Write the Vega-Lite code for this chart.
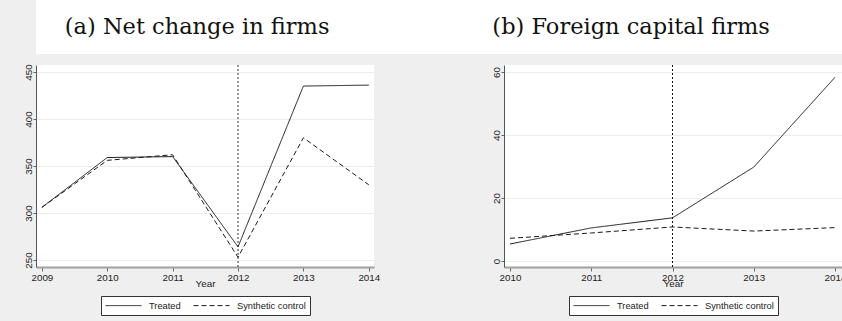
{
  "$schema": "https://vega.github.io/schema/vega-lite/v6.json",
  "background": "#efefef",
  "padding": {"left": 0, "top": 0, "right": 0, "bottom": 6},
  "datasets": {
    "titles": [
      {"panel": "a", "label": "(a) Net change in firms"},
      {"panel": "b", "label": "(b) Foreign capital firms"}
    ],
    "series": [
      {"panel": "a", "year": 2009, "series": "Treated", "value": 306},
      {"panel": "a", "year": 2010, "series": "Treated", "value": 359},
      {"panel": "a", "year": 2011, "series": "Treated", "value": 360},
      {"panel": "a", "year": 2012, "series": "Treated", "value": 264},
      {"panel": "a", "year": 2013, "series": "Treated", "value": 435},
      {"panel": "a", "year": 2014, "series": "Treated", "value": 436},
      {"panel": "a", "year": 2009, "series": "Synthetic control", "value": 306},
      {"panel": "a", "year": 2010, "series": "Synthetic control", "value": 356},
      {"panel": "a", "year": 2011, "series": "Synthetic control", "value": 362},
      {"panel": "a", "year": 2012, "series": "Synthetic control", "value": 253},
      {"panel": "a", "year": 2013, "series": "Synthetic control", "value": 380},
      {"panel": "a", "year": 2014, "series": "Synthetic control", "value": 330},
      {"panel": "b", "year": 2010, "series": "Treated", "value": 5.4},
      {"panel": "b", "year": 2011, "series": "Treated", "value": 10.5},
      {"panel": "b", "year": 2012, "series": "Treated", "value": 13.7},
      {"panel": "b", "year": 2013, "series": "Treated", "value": 29.8},
      {"panel": "b", "year": 2014, "series": "Treated", "value": 58.3},
      {"panel": "b", "year": 2010, "series": "Synthetic control", "value": 7.2},
      {"panel": "b", "year": 2011, "series": "Synthetic control", "value": 8.9},
      {"panel": "b", "year": 2012, "series": "Synthetic control", "value": 10.8},
      {"panel": "b", "year": 2013, "series": "Synthetic control", "value": 9.5},
      {"panel": "b", "year": 2014, "series": "Synthetic control", "value": 10.6}
    ],
    "events": [
      {"panel": "a", "year": 2012},
      {"panel": "b", "year": 2012}
    ]
  },
  "spacing": 9,
  "vconcat": [
    {
      "width": 806,
      "height": 54,
      "data": {"name": "titles"},
      "view": {"fill": "white", "stroke": null},
      "mark": {"type": "text", "font": "DejaVu Serif", "fontSize": 22.5, "color": "#111111"},
      "encoding": {
        "x": {"field": "panel", "type": "nominal", "scale": {"type": "point", "domain": ["a", "b"], "padding": 0.4286, "align": 0.433}, "axis": null},
        "text": {"field": "label"}
      }
    },
    {
      "spacing": 88,
      "resolve": {"scale": {"strokeDash": "independent", "x": "independent", "y": "independent"}, "legend": {"strokeDash": "independent"}},
      "hconcat": [
        {
          "width": 338,
          "height": 202,
          "view": {"fill": "white", "stroke": null},
          "layer": [
            {
              "data": {"name": "series"},
              "transform": [{"filter": "datum.panel == 'a'"}],
              "mark": {"type": "line", "strokeWidth": 1, "color": "#1a1a1a"},
              "encoding": {
                "x": {"field": "year", "type": "quantitative", "scale": {"domain": [2008.91, 2014.08], "nice": false, "zero": false}, "axis": {"values": [2009, 2010, 2011, 2012, 2013, 2014], "format": "d", "title": "Year", "grid": false}},
                "y": {"field": "value", "type": "quantitative", "scale": {"domain": [242.6, 457.4], "nice": false, "zero": false}, "axis": {"values": [250, 300, 350, 400, 450], "title": null, "labelAngle": -90, "minExtent": 36, "maxExtent": 36}},
                "strokeDash": {"field": "series", "type": "nominal", "scale": {"domain": ["Treated", "Synthetic control"], "range": [[1, 0], [5, 3]]}, "legend": {"title": null}}
              }
            },
            {
              "data": {"name": "events"},
              "transform": [{"filter": "datum.panel == 'a'"}],
              "mark": {"type": "rule", "strokeDash": [2, 2], "strokeWidth": 1, "color": "#333333"},
              "encoding": {"x": {"field": "year", "type": "quantitative"}}
            }
          ]
        },
        {
          "width": 338,
          "height": 202,
          "view": {"fill": "white", "stroke": null},
          "layer": [
            {
              "data": {"name": "series"},
              "transform": [{"filter": "datum.panel == 'b'"}],
              "mark": {"type": "line", "strokeWidth": 1, "color": "#1a1a1a"},
              "encoding": {
                "x": {"field": "year", "type": "quantitative", "scale": {"domain": [2009.926, 2014.086], "nice": false, "zero": false}, "axis": {"values": [2010, 2011, 2012, 2013, 2014], "format": "d", "title": "Year", "grid": false}},
                "y": {"field": "value", "type": "quantitative", "scale": {"domain": [-1.9, 62.2], "nice": false, "zero": false}, "axis": {"values": [0, 20, 40, 60], "title": null, "labelAngle": -90, "minExtent": 36, "maxExtent": 36}},
                "strokeDash": {"field": "series", "type": "nominal", "scale": {"domain": ["Treated", "Synthetic control"], "range": [[1, 0], [5, 3]]}, "legend": {"title": null}}
              }
            },
            {
              "data": {"name": "events"},
              "transform": [{"filter": "datum.panel == 'b'"}],
              "mark": {"type": "rule", "strokeDash": [2, 2], "strokeWidth": 1, "color": "#111111"},
              "encoding": {"x": {"field": "year", "type": "quantitative"}}
            }
          ]
        }
      ]
    }
  ],
  "config": {
    "font": "Liberation Sans",
    "axis": {
      "labelFont": "Liberation Sans",
      "labelFontSize": 9.8,
      "labelColor": "#222222",
      "titleFont": "Liberation Sans",
      "titleFontSize": 9.8,
      "titleFontWeight": "normal",
      "titleColor": "#222222",
      "titlePadding": -3,
      "tickColor": "#666666",
      "gridColor": "#ececec",
      "gridWidth": 1
    },
    "axisX": {"domainColor": "#a0a0a0", "domainWidth": 2, "tickSize": 4, "labelPadding": 1},
    "axisY": {"domainColor": "#555555", "domainWidth": 1, "tickSize": 3, "labelPadding": 0},
    "legend": {
      "orient": "bottom",
      "direction": "horizontal",
      "offset": 7,
      "fillColor": "white",
      "strokeColor": "#333333",
      "padding": 4,
      "symbolType": "M-1,0H6.2",
      "symbolSize": 100,
      "symbolStrokeWidth": 1,
      "symbolStrokeColor": "#1a1a1a",
      "labelFont": "Liberation Sans",
      "labelFontSize": 9.3,
      "labelColor": "#222222",
      "labelOffset": 33,
      "columnPadding": 10,
      "layout": {"bottom": {"anchor": "middle"}}
    }
  }
}
